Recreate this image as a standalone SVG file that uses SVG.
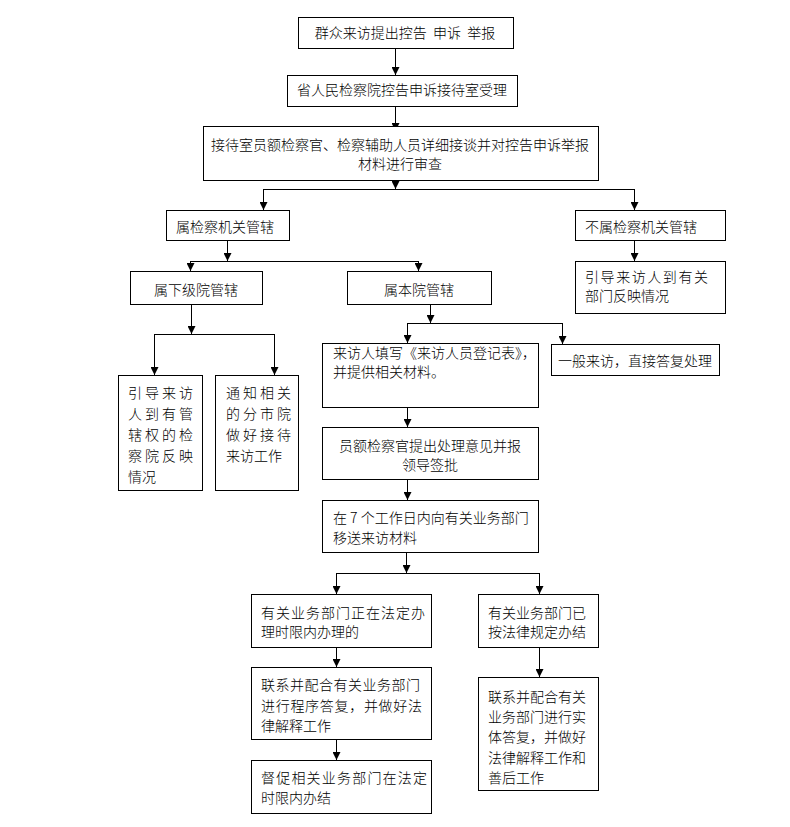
<svg xmlns="http://www.w3.org/2000/svg" width="790" height="827" viewBox="0 0 790 827">
<style>
rect{fill:#fff;stroke:#000;stroke-width:1}
text{font-family:"Noto Sans CJK SC","Noto Sans CJK TC",sans-serif;font-size:14px;font-weight:300;fill:#000}
.m{text-anchor:middle}
.c path{fill:none;stroke:#000;stroke-width:1}
</style>
<defs>
<marker id="ah" viewBox="0 0 8 8" refX="8" refY="4" markerWidth="8" markerHeight="8" markerUnits="userSpaceOnUse" orient="auto">
<path d="M0,0 L8,4 L0,8 z" fill="#000"/>
</marker>
</defs>
<rect x="0" y="0" width="790" height="827" style="stroke:none"/>
<g class="c" id="connectors">
<path d="M395.5,48 V75" marker-end="url(#ah)"/>
<path d="M395.5,106 V131" marker-end="url(#ah)"/>
<path d="M395.5,180 V189" marker-end="url(#ah)"/>
<path d="M263.5,189.5 H634.5"/>
<path d="M263.5,189 V210" marker-end="url(#ah)"/>
<path d="M634.5,189 V210" marker-end="url(#ah)"/>
<path d="M227.5,240 V261" marker-end="url(#ah)"/>
<path d="M190.5,261.5 H418.5"/>
<path d="M190.5,261 V271" marker-end="url(#ah)"/>
<path d="M418.5,261 V271" marker-end="url(#ah)"/>
<path d="M634.5,240 V261" marker-end="url(#ah)"/>
<path d="M191.5,304 V334" marker-end="url(#ah)"/>
<path d="M154.5,334.5 H274.5"/>
<path d="M154.5,334 V375" marker-end="url(#ah)"/>
<path d="M274.5,334 V375" marker-end="url(#ah)"/>
<path d="M430.5,304 V323" marker-end="url(#ah)"/>
<path d="M407.5,323.5 H562.5"/>
<path d="M407.5,323 V343" marker-end="url(#ah)"/>
<path d="M562.5,323 V344" marker-end="url(#ah)"/>
<path d="M407.5,407 V427" marker-end="url(#ah)"/>
<path d="M407.5,479 V500" marker-end="url(#ah)"/>
<path d="M406.5,552 V573" marker-end="url(#ah)"/>
<path d="M336.5,573.5 H539.5"/>
<path d="M336.5,573 V594" marker-end="url(#ah)"/>
<path d="M539.5,573 V594" marker-end="url(#ah)"/>
<path d="M336.5,647 V667" marker-end="url(#ah)"/>
<path d="M336.5,739 V760" marker-end="url(#ah)"/>
<path d="M539.5,647 V677" marker-end="url(#ah)"/>
</g>
<g id="n1"><rect x="298.5" y="17.5" width="215" height="31"/><text x="405" y="38" class="m" xml:space="preserve">群众来访提出控告  申诉  举报</text></g>
<g id="n2"><rect x="287.5" y="75.5" width="230" height="31"/><text x="402" y="95" class="m">省人民检察院控告申诉接待室受理</text></g>
<g id="n3"><rect x="203.5" y="126.5" width="395" height="54"/><text x="400" y="150" class="m">接待室员额检察官、检察辅助人员详细接谈并对控告申诉举报</text><text x="400" y="169" class="m">材料进行审查</text></g>
<g id="n4"><rect x="166.5" y="210.5" width="123" height="30"/><text x="225" y="232" class="m">属检察机关管辖</text></g>
<g id="n5"><rect x="575.5" y="210.5" width="150" height="30"/><text x="585" y="232">不属检察机关管辖</text></g>
<g id="n6"><rect x="575.5" y="261.5" width="150" height="52"/><text x="585" y="282" textLength="123" lengthAdjust="spacing">引导来访人到有关</text><text x="585" y="301">部门反映情况</text></g>
<g id="n7"><rect x="130.5" y="271.5" width="132" height="33"/><text x="196" y="295" class="m">属下级院管辖</text></g>
<g id="n8"><rect x="347.5" y="271.5" width="144" height="33"/><text x="419" y="295" class="m">属本院管辖</text></g>
<g id="n9"><rect x="118.5" y="375.5" width="84" height="115"/>
<text x="128" y="398" textLength="65" lengthAdjust="spacing">引导来访</text>
<text x="128" y="419" textLength="65" lengthAdjust="spacing">人到有管</text>
<text x="128" y="440" textLength="65" lengthAdjust="spacing">辖权的检</text>
<text x="128" y="461" textLength="65" lengthAdjust="spacing">察院反映</text>
<text x="128" y="482">情况</text></g>
<g id="n10"><rect x="215.5" y="375.5" width="83" height="115"/>
<text x="226" y="398" textLength="65" lengthAdjust="spacing">通知相关</text>
<text x="226" y="419" textLength="65" lengthAdjust="spacing">的分市院</text>
<text x="226" y="440" textLength="65" lengthAdjust="spacing">做好接待</text>
<text x="226" y="461">来访工作</text></g>
<g id="n11"><rect x="322.5" y="343.5" width="216" height="64"/><text x="333" y="358">来访人填写《来访人员登记表》，</text><text x="333" y="377">并提供相关材料。</text></g>
<g id="n12"><rect x="551.5" y="344.5" width="168" height="31"/><text x="635" y="366" class="m">一般来访，直接答复处理</text></g>
<g id="n13"><rect x="322.5" y="427.5" width="216" height="52"/><text x="430" y="451" class="m">员额检察官提出处理意见并报</text><text x="430" y="470" class="m">领导签批</text></g>
<g id="n14"><rect x="322.5" y="500.5" width="216" height="52"/><text x="333" y="523" xml:space="preserve">在 7 个工作日内向有关业务部门</text><text x="333" y="543">移送来访材料</text></g>
<g id="n15"><rect x="251.5" y="594.5" width="180" height="53"/><text x="261" y="618" textLength="164" lengthAdjust="spacing">有关业务部门正在法定办</text><text x="261" y="637">理时限内办理的</text></g>
<g id="n16"><rect x="478.5" y="594.5" width="120" height="53"/><text x="488" y="618">有关业务部门已</text><text x="488" y="637">按法律规定办结</text></g>
<g id="n17"><rect x="251.5" y="667.5" width="180" height="72"/><text x="261" y="690" textLength="159" lengthAdjust="spacing">联系并配合有关业务部门</text><text x="261" y="711" textLength="161" lengthAdjust="spacing">进行程序答复，并做好法</text><text x="261" y="731">律解释工作</text></g>
<g id="n18"><rect x="251.5" y="760.5" width="180" height="53"/><text x="261" y="783" textLength="166" lengthAdjust="spacing">督促相关业务部门在法定</text><text x="261" y="803">时限内办结</text></g>
<g id="n19"><rect x="478.5" y="677.5" width="120" height="113"/><text x="488" y="702">联系并配合有关</text><text x="488" y="722">业务部门进行实</text><text x="488" y="742">体答复，并做好</text><text x="488" y="763">法律解释工作和</text><text x="488" y="783">善后工作</text></g>
</svg>
